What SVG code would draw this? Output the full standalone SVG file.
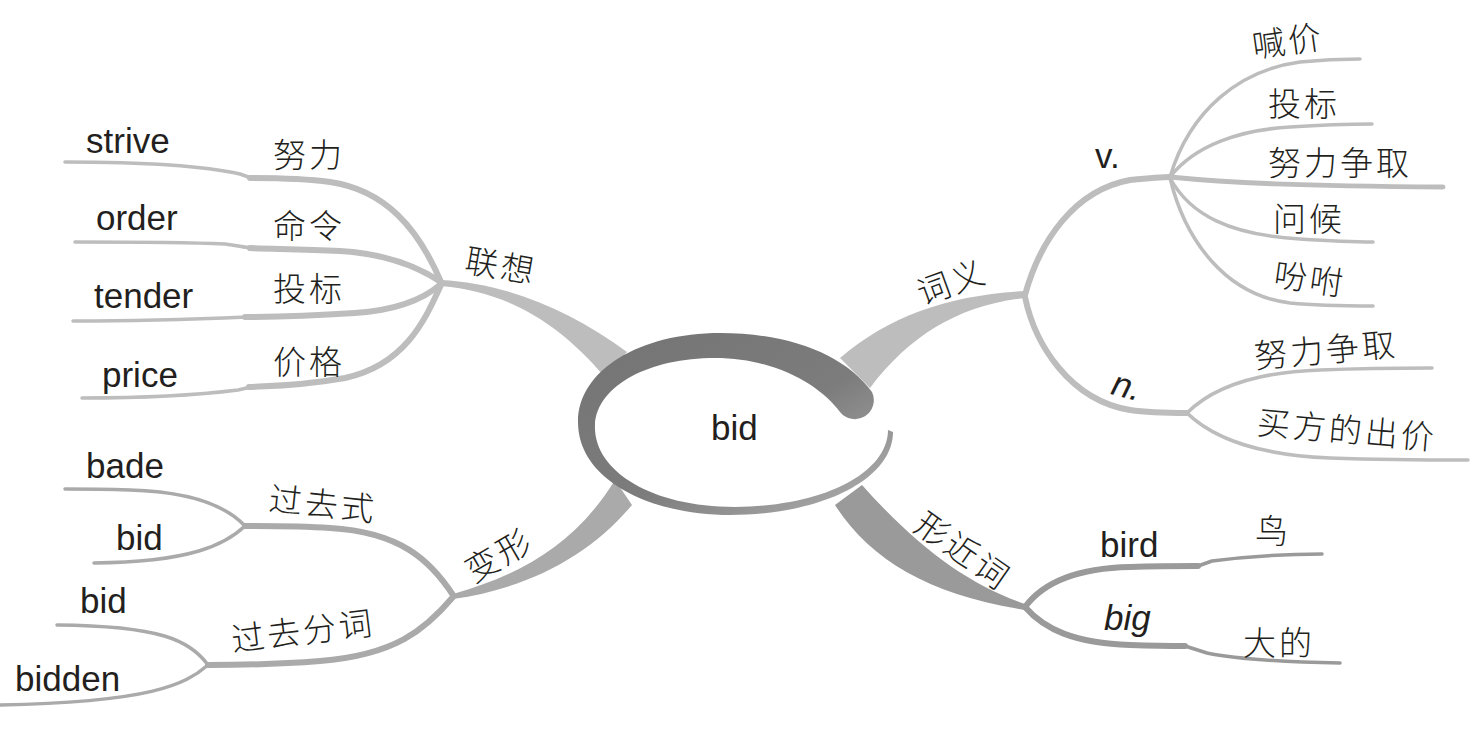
<svg xmlns="http://www.w3.org/2000/svg" width="1483" height="742" viewBox="0 0 1483 742">
<defs>
<linearGradient id="ringGrad" x1="0" y1="0" x2="1" y2="1">
<stop offset="0" stop-color="#747474"/>
<stop offset="0.55" stop-color="#7c7c7c"/>
<stop offset="1" stop-color="#b4b4b4"/>
</linearGradient>
<style>
.en{font-family:"Liberation Sans",Arial,sans-serif;font-size:35px;fill:#231f20}
.it{font-style:italic}
.cn{font-family:"Noto Sans CJK SC","Noto Sans CJK JP",sans-serif;font-size:33px;fill:#231f20;letter-spacing:3px;font-weight:300}
.ln{fill:none;stroke-linecap:round;stroke-linejoin:round}
.a{stroke:#bdbdbd}
.b{stroke:#aaaaaa}
.c{stroke:#9a9a9a}
.w6{stroke-width:6}
.w5{stroke-width:5}
.w4{stroke-width:3.5}
</style>
</defs>
<rect width="1483" height="742" fill="#ffffff"/>
<g id="connectors">
<path d="M441,280 C505,283 570,310 627,352 L604,376 C560,325 510,292 441,286 Z" fill="#bdbdbd"/>
<path d="M453,594 C520,575 575,545 615,480 L632,505 C590,555 530,588 453,599 Z" fill="#aaaaaa"/>
<path d="M840,358 C890,315 950,295 1025,291 L1025,298 C960,305 910,335 870,388 Z" fill="#bdbdbd"/>
<path d="M835,505 C870,560 930,595 1025,610 L1025,604 C970,585 920,550 862,485 Z" fill="#9a9a9a"/>
<path class="ln a w6" d="M441,282 C418,228 385,190 330,182 C300,178 270,178 250,178"/>
<path class="ln a w4" d="M251,178 L240,174 C200,165 130,162 65,162"/>
<path class="ln a w6" d="M441,282 C420,268 390,254 340,251 C300,249 270,249 250,248"/>
<path class="ln a w4" d="M252,248 C240,247 235,245 225,244 C180,242 120,242 75,242"/>
<path class="ln a w6" d="M441,284 C425,298 400,310 355,313 C310,316 270,317 245,317"/>
<path class="ln a w4" d="M247,317 C200,319 130,321 73,321"/>
<path class="ln a w6" d="M441,285 C425,320 405,365 345,378 C300,386 270,386 249,387"/>
<path class="ln a w4" d="M251,387 L238,390 C190,396 130,398 82,398"/>
<path class="ln b w6" d="M453,595 C430,560 400,532 330,528 C300,526 270,526 245,526"/>
<path class="ln b w4" d="M245,526 C230,510 200,492 130,490 C100,489 80,489 65,489"/>
<path class="ln b w4" d="M245,526 C225,545 190,562 94,563"/>
<path class="ln b w6" d="M453,597 C425,630 395,655 320,661 C270,665 240,665 208,665"/>
<path class="ln b w4" d="M208,665 C190,640 160,626 57,625"/>
<path class="ln b w4" d="M208,665 C185,685 150,702 0,705"/>
<path class="ln a w6" d="M1025,295 C1040,240 1075,190 1130,180 C1150,178 1160,177 1170,177"/>
<path class="ln a w6" d="M1025,297 C1035,345 1070,400 1130,410 C1150,413 1170,413 1187,413"/>
<path class="ln a w4" d="M1170,177 C1190,110 1240,70 1300,62 C1330,59 1345,59 1360,59"/>
<path class="ln a w4" d="M1170,177 C1195,145 1240,130 1290,127 C1320,125 1350,124 1372,124"/>
<path class="ln a w5" d="M1170,177 C1230,183 1300,186 1443,187"/>
<path class="ln a w4" d="M1170,178 C1190,215 1230,235 1300,239 C1330,241 1350,242 1373,242"/>
<path class="ln a w4" d="M1170,178 C1185,240 1225,295 1290,303 C1320,306 1350,306 1373,306"/>
<path class="ln a w4" d="M1187,413 C1215,385 1260,372 1320,370 C1370,368 1400,368 1432,368"/>
<path class="ln a w4" d="M1187,413 C1215,440 1260,455 1330,458 C1390,460 1430,460 1468,460"/>
<path class="ln c w6" d="M1025,607 C1045,580 1080,568 1130,567 C1160,566 1180,566 1198,566"/>
<path class="ln c w4" d="M1198,566 L1212,561 C1250,556 1290,554 1322,554"/>
<path class="ln c w6" d="M1025,607 C1045,630 1075,643 1130,645 C1160,646 1175,646 1185,646"/>
<path class="ln c w4" d="M1185,646 L1207,653 C1240,660 1290,662 1340,663"/>
</g>
<g id="center">
<path d="M872,392 C845,355 790,333 720,333 C640,333 578,370 578,422 C578,480 650,515 730,515 C820,515 893,480 893,432 L888,430 C888,470 830,506 735,507 C650,507 593,470 595,425 C597,385 650,358 715,358 C775,358 820,385 840,412 A19,19 0 0 0 872,392 Z" fill="url(#ringGrad)"/>
<text class="en" x="711" y="440">bid</text>
</g>
<g id="n-lianxiang"><text class="cn" x="501" y="278" text-anchor="middle" transform="rotate(10 501 266)">联想</text></g>
<g id="n-nuli"><text class="cn" x="273" y="167">努力</text></g>
<g id="n-strive"><text class="en" x="86" y="153">strive</text></g>
<g id="n-mingling"><text class="cn" x="273" y="238">命令</text></g>
<g id="n-order"><text class="en" x="96" y="230">order</text></g>
<g id="n-toubiao1"><text class="cn" x="273" y="301">投标</text></g>
<g id="n-tender"><text class="en" x="94" y="308">tender</text></g>
<g id="n-jiage"><text class="cn" x="273" y="374">价格</text></g>
<g id="n-price"><text class="en" x="102" y="387">price</text></g>
<g id="n-bianxing"><text class="cn" x="499" y="567" text-anchor="middle" transform="rotate(-30 499 555)">变形</text></g>
<g id="n-guoqushi"><text class="cn" x="323" y="516" text-anchor="middle" transform="rotate(6 323 504)">过去式</text></g>
<g id="n-bade"><text class="en" x="86" y="478">bade</text></g>
<g id="n-bid1"><text class="en" x="116" y="550">bid</text></g>
<g id="n-guoqufenci"><text class="cn" x="303" y="643" text-anchor="middle" transform="rotate(-7 303 631)">过去分词</text></g>
<g id="n-bid2"><text class="en" x="80" y="613">bid</text></g>
<g id="n-bidden"><text class="en" x="15" y="691">bidden</text></g>
<g id="n-ciyi"><text class="cn" x="952" y="294" text-anchor="middle" transform="rotate(-20 952 282)">词义</text></g>
<g id="n-v"><text class="en" x="1095" y="168">v.</text></g>
<g id="n-hanjia"><text class="cn" x="1288" y="53" text-anchor="middle" transform="rotate(-8 1288 41)">喊价</text></g>
<g id="n-toubiao2"><text class="cn" x="1268" y="116">投标</text></g>
<g id="n-nulizhengqu1"><text class="cn" x="1268" y="175">努力争取</text></g>
<g id="n-wenhou"><text class="cn" x="1273" y="231">问候</text></g>
<g id="n-fenfu"><text class="cn" x="1310" y="291" text-anchor="middle" transform="rotate(8 1310 279)">吩咐</text></g>
<g id="n-n"><text class="en it" x="1127" y="398" text-anchor="middle" transform="rotate(15 1127 386)">n.</text></g>
<g id="n-nulizhengqu2"><text class="cn" x="1326" y="362" text-anchor="middle" transform="rotate(-5 1326 350)">努力争取</text></g>
<g id="n-maifang"><text class="cn" x="1347" y="442" text-anchor="middle" transform="rotate(5 1347 430)">买方的出价</text></g>
<g id="n-xingjinci"><text class="cn" x="963" y="563" text-anchor="middle" transform="rotate(35 963 551)">形近词</text></g>
<g id="n-bird"><text class="en" x="1100" y="557">bird</text></g>
<g id="n-niao"><text class="cn" x="1255" y="543">鸟</text></g>
<g id="n-big"><text class="en it" x="1104" y="630">big</text></g>
<g id="n-dade"><text class="cn" x="1243" y="655">大的</text></g>
</svg>
